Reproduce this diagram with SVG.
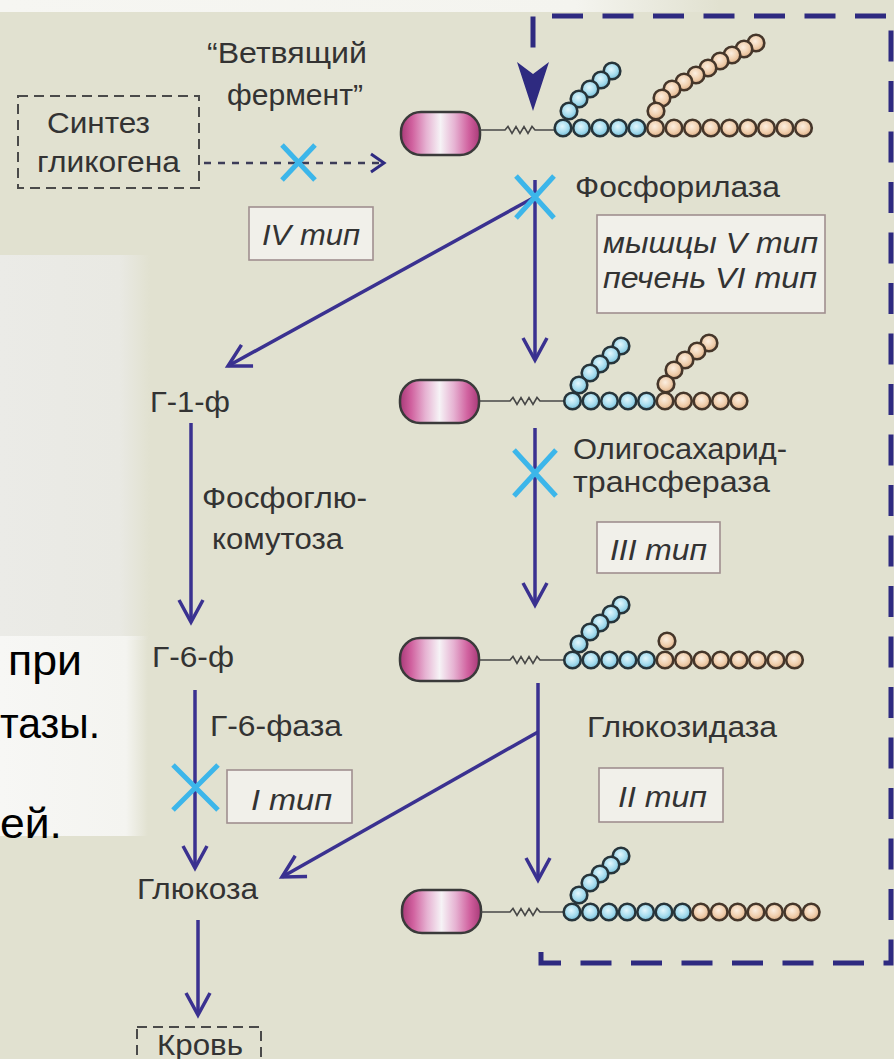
<svg xmlns="http://www.w3.org/2000/svg" xmlns:xlink="http://www.w3.org/1999/xlink" width="894" height="1059" viewBox="0 0 894 1059">
  <style>
    .lbl { font-family: "Liberation Sans", Arial, sans-serif; font-size: 29px; fill: #333; }
    .it { font-style: italic; }
    .big { font-family: "Liberation Sans", Arial, sans-serif; font-size: 42px; fill: #000; }
    .arr { stroke: #3a3190; stroke-width: 3.5; fill: none; marker-end: url(#chev); }
    .xm { stroke: #3cb6ea; stroke-width: 5; fill: none; }
    .tag { fill: #f1f0ea; stroke: #a08f8f; stroke-width: 1.6; }
    .dbox { fill: none; stroke: #4a4a4a; stroke-width: 2; stroke-dasharray: 10 6; }
    .bb { fill: url(#gBlue); stroke: #26343a; stroke-width: 2.6; }
    .bo { fill: url(#gOrange); stroke: #45362a; stroke-width: 2.6; }
    .pill { fill: url(#gPill); stroke: #3a3a3a; stroke-width: 2.5; }
    .zz { fill: none; stroke: #474747; stroke-width: 1.6; }
    .loop { fill: none; stroke: #2e2a80; stroke-width: 5; stroke-dasharray: 31 19.5; stroke-dashoffset: 44.5; }
  </style>
  <defs>
    <marker id="chev" markerUnits="userSpaceOnUse" viewBox="-28 -16 32 32" refX="0" refY="0" markerWidth="32" markerHeight="32" orient="auto">
      <path d="M-22,-12 L0,0 L-22,12" fill="none" stroke="#3a3190" stroke-width="3.5"/>
    </marker>
    <radialGradient id="gBlue" cx="0.45" cy="0.4" r="0.6">
      <stop offset="0" stop-color="#e2f6fc"/>
      <stop offset="0.6" stop-color="#a6dcee"/>
      <stop offset="1" stop-color="#74bcd6"/>
    </radialGradient>
    <radialGradient id="gOrange" cx="0.45" cy="0.4" r="0.6">
      <stop offset="0" stop-color="#fbeee0"/>
      <stop offset="0.6" stop-color="#f0cfae"/>
      <stop offset="1" stop-color="#dcae86"/>
    </radialGradient>
    <linearGradient id="gPill" x1="0" y1="0" x2="1" y2="0">
      <stop offset="0" stop-color="#a83a78"/>
      <stop offset="0.14" stop-color="#d0609e"/>
      <stop offset="0.32" stop-color="#e6b2d2"/>
      <stop offset="0.5" stop-color="#f6f3f6"/>
      <stop offset="0.68" stop-color="#e6b2d2"/>
      <stop offset="0.86" stop-color="#d0609e"/>
      <stop offset="1" stop-color="#a83a78"/>
    </linearGradient>
    <linearGradient id="gWhiteL" x1="0" y1="0" x2="1" y2="0">
      <stop offset="0" stop-color="#f7f7f5"/>
      <stop offset="0.85" stop-color="#f4f4f0"/>
      <stop offset="1" stop-color="#f4f4f0" stop-opacity="0"/>
    </linearGradient>
    <linearGradient id="gGreyL" x1="0" y1="0" x2="1" y2="0">
      <stop offset="0" stop-color="#ebebe7"/>
      <stop offset="0.8" stop-color="#e9e9e3"/>
      <stop offset="1" stop-color="#e9e9e3" stop-opacity="0"/>
    </linearGradient>
    <linearGradient id="gTop" x1="0" y1="0" x2="1" y2="0">
      <stop offset="0" stop-color="#f6f6f2"/>
      <stop offset="0.8" stop-color="#f4f4ef"/>
      <stop offset="1" stop-color="#f4f4ef" stop-opacity="0"/>
    </linearGradient>
    <circle id="cb" class="bb" r="8.3"/>
    <circle id="co" class="bo" r="8.3"/>
    <g id="primer">
      <rect class="pill" x="0" y="-21.5" width="79" height="43" rx="20"/>
    </g>
  </defs>

  <!-- backdrop -->
  <rect width="894" height="1059" fill="#e1e1d0"/>
  <rect x="0" y="255" width="150" height="385" fill="url(#gGreyL)"/>
  <rect x="0" y="636" width="148" height="200" fill="url(#gWhiteL)"/>
  <rect x="0" y="0" width="720" height="12" fill="url(#gTop)"/>

  <!-- slide text behind the scheme -->
  <g id="slide-text">
    <text class="big" x="8" y="675" textLength="74" lengthAdjust="spacingAndGlyphs">при</text>
    <text class="big" x="0" y="738" textLength="100" lengthAdjust="spacingAndGlyphs">тазы.</text>
    <text class="big" x="0" y="838" textLength="62" lengthAdjust="spacingAndGlyphs">ей.</text>
  </g>

  <!-- connectors -->
  <g id="connectors">
    <path class="loop" d="M541,946 V963 H891 V16 H533 V50"/>
    <path d="M517,62 L533,74 L549,62 L533,111 Z" fill="#2e2a80"/>
    <line x1="204" y1="163" x2="380" y2="163" stroke="#3c3c58" stroke-width="2.5" stroke-dasharray="7 7"/>
    <path d="M371,154 L384,163 L371,172" fill="none" stroke="#2e2a80" stroke-width="3"/>
    <line class="arr" x1="535" y1="180" x2="535" y2="360"/>
    <line class="arr" x1="535" y1="197" x2="228" y2="366"/>
    <line class="arr" x1="535" y1="428" x2="535" y2="605"/>
    <line class="arr" x1="538" y1="683" x2="538" y2="880"/>
    <line class="arr" x1="538" y1="732" x2="282" y2="877"/>
    <line class="arr" x1="191" y1="423" x2="191" y2="622"/>
    <line class="arr" x1="195" y1="690" x2="195" y2="868"/>
    <line class="arr" x1="198" y1="920" x2="198" y2="1015"/>
  </g>

  <!-- blocked steps -->
  <g id="blocks">
    <path class="xm" d="M282,145 L315,180 M315,145 L282,180"/>
    <path class="xm" d="M516,176 L554,218 M554,176 L516,218"/>
    <path class="xm" d="M514,450 L556,496 M556,450 L514,496"/>
    <path class="xm" d="M173,765 L218,810 M218,765 L173,810"/>
  </g>

  <!-- glycogen synthesis source -->
  <g id="synthesis">
    <rect class="dbox" x="18" y="96" width="181" height="92"/>
    <text class="lbl" x="47" y="133" textLength="103" lengthAdjust="spacingAndGlyphs">Синтез</text>
    <text class="lbl" x="37" y="172" textLength="143" lengthAdjust="spacingAndGlyphs">гликогена</text>
  </g>

  <g id="branching-enzyme">
    <text class="lbl" x="207" y="63" textLength="160" lengthAdjust="spacingAndGlyphs">“Ветвящий</text>
    <text class="lbl" x="227" y="105" textLength="136" lengthAdjust="spacingAndGlyphs">фермент”</text>
    <rect class="tag" x="249" y="207" width="124" height="53"/>
    <text class="lbl it" x="262" y="245" textLength="98" lengthAdjust="spacingAndGlyphs">IV тип</text>
  </g>

  <!-- glycogen molecule, stage 1 -->
  <g id="glycogen-1">
    <use xlink:href="#primer" x="401" y="133.5"/>
    <path class="zz" d="M480,130 H505 l3,-3.5 l4,7 l4,-7 l4,7 l4,-7 l4,7 l4,-7 l3,3.5 H555"/>
    <use xlink:href="#cb" x="612" y="71"/>
    <use xlink:href="#cb" x="601" y="80"/>
    <use xlink:href="#cb" x="590" y="89"/>
    <use xlink:href="#cb" x="579" y="99"/>
    <use xlink:href="#cb" x="569" y="111"/>
    <use xlink:href="#co" x="756" y="43"/>
    <use xlink:href="#co" x="744" y="49"/>
    <use xlink:href="#co" x="732" y="55"/>
    <use xlink:href="#co" x="720" y="61"/>
    <use xlink:href="#co" x="708" y="68"/>
    <use xlink:href="#co" x="696" y="75"/>
    <use xlink:href="#co" x="684" y="82"/>
    <use xlink:href="#co" x="672" y="89"/>
    <use xlink:href="#co" x="662" y="98"/>
    <use xlink:href="#co" x="656" y="111"/>
    <use xlink:href="#cb" x="563" y="128"/>
    <use xlink:href="#cb" x="581.5" y="128"/>
    <use xlink:href="#cb" x="600" y="128"/>
    <use xlink:href="#cb" x="618.5" y="128"/>
    <use xlink:href="#cb" x="637" y="128"/>
    <use xlink:href="#co" x="655.5" y="128"/>
    <use xlink:href="#co" x="674" y="128"/>
    <use xlink:href="#co" x="692.5" y="128"/>
    <use xlink:href="#co" x="711" y="128"/>
    <use xlink:href="#co" x="729.5" y="128"/>
    <use xlink:href="#co" x="748" y="128"/>
    <use xlink:href="#co" x="766.5" y="128"/>
    <use xlink:href="#co" x="785" y="128"/>
    <use xlink:href="#co" x="803.5" y="128"/>
  </g>

  <g id="phosphorylase">
    <text class="lbl" x="575" y="197" textLength="205" lengthAdjust="spacingAndGlyphs">Фосфорилаза</text>
    <rect class="tag" x="597" y="215" width="228" height="98"/>
    <text class="lbl it" x="603" y="253" textLength="215" lengthAdjust="spacingAndGlyphs">мышцы V тип</text>
    <text class="lbl it" x="603" y="288" textLength="214" lengthAdjust="spacingAndGlyphs">печень VI тип</text>
  </g>

  <!-- glycogen molecule, stage 2 -->
  <g id="glycogen-2">
    <use xlink:href="#primer" x="400" y="401.5"/>
    <path class="zz" d="M480,401 H510 l3,-3.5 l4,7 l4,-7 l4,7 l4,-7 l4,7 l4,-7 l3,3.5 H564"/>
    <use xlink:href="#cb" x="621" y="346"/>
    <use xlink:href="#cb" x="611" y="355"/>
    <use xlink:href="#cb" x="600" y="364"/>
    <use xlink:href="#cb" x="590" y="373"/>
    <use xlink:href="#cb" x="579" y="385"/>
    <use xlink:href="#co" x="709" y="343"/>
    <use xlink:href="#co" x="697" y="351"/>
    <use xlink:href="#co" x="685" y="360"/>
    <use xlink:href="#co" x="674" y="370"/>
    <use xlink:href="#co" x="666" y="384"/>
    <use xlink:href="#cb" x="572.5" y="401"/>
    <use xlink:href="#cb" x="591" y="401"/>
    <use xlink:href="#cb" x="609.5" y="401"/>
    <use xlink:href="#cb" x="628" y="401"/>
    <use xlink:href="#cb" x="646.5" y="401"/>
    <use xlink:href="#co" x="665" y="401"/>
    <use xlink:href="#co" x="683.5" y="401"/>
    <use xlink:href="#co" x="702" y="401"/>
    <use xlink:href="#co" x="720.5" y="401"/>
    <use xlink:href="#co" x="739" y="401"/>
  </g>

  <g id="transferase">
    <text class="lbl" x="573" y="459" textLength="214" lengthAdjust="spacingAndGlyphs">Олигосахарид-</text>
    <text class="lbl" x="573" y="492" textLength="197" lengthAdjust="spacingAndGlyphs">трансфераза</text>
    <rect class="tag" x="597" y="522" width="123" height="51"/>
    <text class="lbl it" x="610" y="560" textLength="97" lengthAdjust="spacingAndGlyphs">III тип</text>
  </g>

  <!-- glycogen molecule, stage 3 -->
  <g id="glycogen-3">
    <use xlink:href="#primer" x="400" y="659.5"/>
    <path class="zz" d="M480,660 H510 l3,-3.5 l4,7 l4,-7 l4,7 l4,-7 l4,7 l4,-7 l3,3.5 H564"/>
    <use xlink:href="#cb" x="621" y="605"/>
    <use xlink:href="#cb" x="611" y="614"/>
    <use xlink:href="#cb" x="600" y="623"/>
    <use xlink:href="#cb" x="590" y="632"/>
    <use xlink:href="#cb" x="579" y="644"/>
    <use xlink:href="#co" x="667" y="641"/>
    <use xlink:href="#cb" x="572.5" y="660"/>
    <use xlink:href="#cb" x="591" y="660"/>
    <use xlink:href="#cb" x="609.5" y="660"/>
    <use xlink:href="#cb" x="628" y="660"/>
    <use xlink:href="#cb" x="646.5" y="660"/>
    <use xlink:href="#co" x="665" y="660"/>
    <use xlink:href="#co" x="683.5" y="660"/>
    <use xlink:href="#co" x="702" y="660"/>
    <use xlink:href="#co" x="720.5" y="660"/>
    <use xlink:href="#co" x="739" y="660"/>
    <use xlink:href="#co" x="757.5" y="660"/>
    <use xlink:href="#co" x="776" y="660"/>
    <use xlink:href="#co" x="794.5" y="660"/>
  </g>

  <g id="glucosidase">
    <text class="lbl" x="587" y="737" textLength="190" lengthAdjust="spacingAndGlyphs">Глюкозидаза</text>
    <rect class="tag" x="599" y="768" width="124" height="54"/>
    <text class="lbl it" x="618" y="807" textLength="89" lengthAdjust="spacingAndGlyphs">II тип</text>
  </g>

  <!-- glycogen molecule, stage 4 -->
  <g id="glycogen-4">
    <use xlink:href="#primer" x="402" y="911.5"/>
    <path class="zz" d="M481,912 H510 l3,-3.5 l4,7 l4,-7 l4,7 l4,-7 l4,7 l4,-7 l3,3.5 H563"/>
    <use xlink:href="#cb" x="621" y="856"/>
    <use xlink:href="#cb" x="611" y="865"/>
    <use xlink:href="#cb" x="600" y="874"/>
    <use xlink:href="#cb" x="590" y="883"/>
    <use xlink:href="#cb" x="579" y="895"/>
    <use xlink:href="#cb" x="572" y="912"/>
    <use xlink:href="#cb" x="590.4" y="912"/>
    <use xlink:href="#cb" x="608.8" y="912"/>
    <use xlink:href="#cb" x="627.2" y="912"/>
    <use xlink:href="#cb" x="645.6" y="912"/>
    <use xlink:href="#cb" x="664" y="912"/>
    <use xlink:href="#cb" x="682.4" y="912"/>
    <use xlink:href="#co" x="700.8" y="912"/>
    <use xlink:href="#co" x="719.2" y="912"/>
    <use xlink:href="#co" x="737.6" y="912"/>
    <use xlink:href="#co" x="756" y="912"/>
    <use xlink:href="#co" x="774.4" y="912"/>
    <use xlink:href="#co" x="792.8" y="912"/>
    <use xlink:href="#co" x="811.2" y="912"/>
  </g>

  <!-- left-hand metabolite column -->
  <g id="g1p">
    <text class="lbl" x="150" y="412" textLength="80" lengthAdjust="spacingAndGlyphs">Г-1-ф</text>
  </g>
  <g id="phosphoglucomutase">
    <text class="lbl" x="202" y="508" textLength="165" lengthAdjust="spacingAndGlyphs">Фосфоглю-</text>
    <text class="lbl" x="212" y="549" textLength="131" lengthAdjust="spacingAndGlyphs">комутоза</text>
  </g>
  <g id="g6p">
    <text class="lbl" x="152" y="667" textLength="82" lengthAdjust="spacingAndGlyphs">Г-6-ф</text>
  </g>
  <g id="g6pase">
    <text class="lbl" x="210" y="736" textLength="132" lengthAdjust="spacingAndGlyphs">Г-6-фаза</text>
    <rect class="tag" x="227" y="770" width="125" height="53"/>
    <text class="lbl it" x="251" y="810" textLength="81" lengthAdjust="spacingAndGlyphs">I тип</text>
  </g>
  <g id="glucose">
    <text class="lbl" x="137" y="899" textLength="121" lengthAdjust="spacingAndGlyphs">Глюкоза</text>
  </g>
  <g id="blood">
    <rect class="dbox" x="137" y="1027" width="124" height="50"/>
    <text class="lbl" x="157" y="1055" textLength="86" lengthAdjust="spacingAndGlyphs">Кровь</text>
  </g>
</svg>
